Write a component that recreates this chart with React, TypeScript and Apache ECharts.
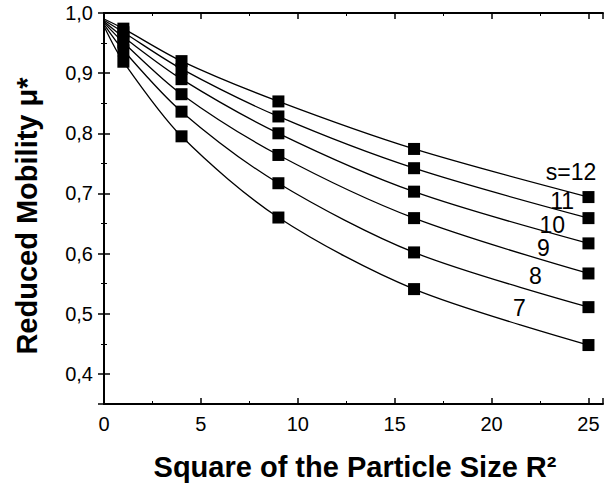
import React, { useEffect, useRef } from "react";
import * as echarts from "echarts";

// R^2 values (x = 0 is the curve start, drawn without a marker)
const xValues = [0, 1, 4, 9, 16, 25];

// Reduced mobility for each s
const s12 = [0.99, 0.974, 0.92, 0.853, 0.774, 0.694];
const s11 = [0.988, 0.968, 0.907, 0.828, 0.742, 0.659];
const s10 = [0.986, 0.96, 0.89, 0.8, 0.703, 0.617];
const s9 = [0.984, 0.951, 0.865, 0.764, 0.659, 0.567];
const s8 = [0.981, 0.938, 0.836, 0.717, 0.602, 0.511];
const s7 = [0.978, 0.919, 0.795, 0.66, 0.541, 0.448];

const seriesNames = ["s=12", "11", "10", "9", "8", "7"];
const seriesValues = [s12, s11, s10, s9, s8, s7];

// curve annotation positions in data coordinates
const labelX = [24.1, 23.64, 23.13, 22.67, 22.26, 21.44];
const labelY = [0.735, 0.687, 0.648, 0.609, 0.563, 0.51];

const xTitle = "Square of the Particle Size R\u00B2";
const yTitle = "Reduced Mobility \u03BC*";

const FONT = '"Liberation Sans", Arial, sans-serif';

export default function App() {
  const ref = useRef<HTMLDivElement>(null);

  useEffect(() => {
    if (!ref.current) return;
    const chart = echarts.init(ref.current, undefined, { renderer: "svg" });

    const axisLine = { show: true, lineStyle: { color: "#000", width: 2 } };
    const axisTick = { show: true, inside: true, length: 6, lineStyle: { color: "#000", width: 1.5 } };
    const minorTick = { show: true, splitNumber: 2, length: 3, lineStyle: { color: "#000", width: 1 } };

    const yMin = 0.35;
    const yMax = 1.0;
    const xMin = 0;
    const xMax = 25.75;

    const yFormatter = (v: number) =>
      Math.abs(v - yMin) < 1e-6 || v > yMax ? "" : v.toFixed(1).replace(".", ",");
    const xFormatter = (v: number) => (Math.abs(v % 5) < 1e-6 && v <= 25 ? String(v) : "");

    const lineSeries = seriesValues.map((vals, i) => ({
      type: "line",
      name: seriesNames[i],
      xAxisIndex: 0,
      yAxisIndex: 0,
      smooth: 0.3,
      symbol: "rect",
      symbolSize: 12,
      itemStyle: { color: "#000" },
      lineStyle: { color: "#000", width: 1.3 },
      data: vals.map((v, j) =>
        j === 0 ? { value: [xValues[j], v], symbol: "none" } : { value: [xValues[j], v] }
      ),
      z: 3,
    }));

    const labelSeries = {
      type: "scatter",
      xAxisIndex: 0,
      yAxisIndex: 0,
      symbolSize: 1,
      itemStyle: { color: "#fff", opacity: 1 },
      label: {
        show: true,
        position: "inside",
        formatter: (p: any) => p.name,
        color: "#000",
        opacity: 1,
        textBorderWidth: 0,
        fontSize: 23,
        lineHeight: 17,
        fontFamily: FONT,
      },
      data: seriesNames.map((n, i) => ({ name: n, value: [labelX[i], labelY[i]] })),
      z: 4,
    };

    chart.setOption({
      animation: false,
      backgroundColor: "#fff",
      grid: { left: 104, top: 13, right: 0, bottom: 87, containLabel: false },
      xAxis: [
        {
          type: "value",
          position: "bottom",
          min: xMin,
          max: xMax,
          interval: 5,
          axisLine,
          axisTick,
          minorTick,
          splitLine: { show: false },
          axisLabel: {
            formatter: xFormatter,
            color: "#000",
            fontSize: 20,
            fontFamily: FONT,
            margin: 10,
          },
        },
        {
          type: "value",
          position: "top",
          min: xMin,
          max: xMax,
          interval: 5,
          axisLine,
          axisTick,
          minorTick,
          splitLine: { show: false },
          axisLabel: { show: false },
        },
      ],
      yAxis: [
        {
          type: "value",
          position: "left",
          min: yMin,
          max: yMax,
          splitNumber: 7,
          axisLine,
          axisTick,
          minorTick,
          splitLine: { show: false },
          axisLabel: {
            formatter: yFormatter,
            color: "#000",
            fontSize: 20,
            fontFamily: FONT,
            margin: 11,
          },
        },
        {
          type: "value",
          position: "right",
          min: yMin,
          max: yMax,
          splitNumber: 7,
          axisLine,
          axisTick,
          minorTick,
          splitLine: { show: false },
          axisLabel: { show: false },
        },
      ],
      graphic: [
        {
          type: "text",
          x: 355,
          y: 467,
          style: {
            text: xTitle,
            fontSize: 29,
            fontWeight: "bold",
            fontFamily: FONT,
            fill: "#000",
            align: "center",
            verticalAlign: "middle",
          },
        },
        {
          type: "text",
          x: 27,
          y: 216,
          rotation: Math.PI / 2,
          style: {
            text: yTitle,
            fontSize: 29,
            fontWeight: "bold",
            fontFamily: FONT,
            fill: "#000",
            align: "center",
            verticalAlign: "middle",
          },
        },
      ],
      series: [...lineSeries, labelSeries],
    });

    return () => chart.dispose();
  }, []);

  return (
    <div
      ref={ref}
      style={{ position: "fixed", left: 0, top: 0, width: 606, height: 491, background: "#fff" }}
    />
  );
}
